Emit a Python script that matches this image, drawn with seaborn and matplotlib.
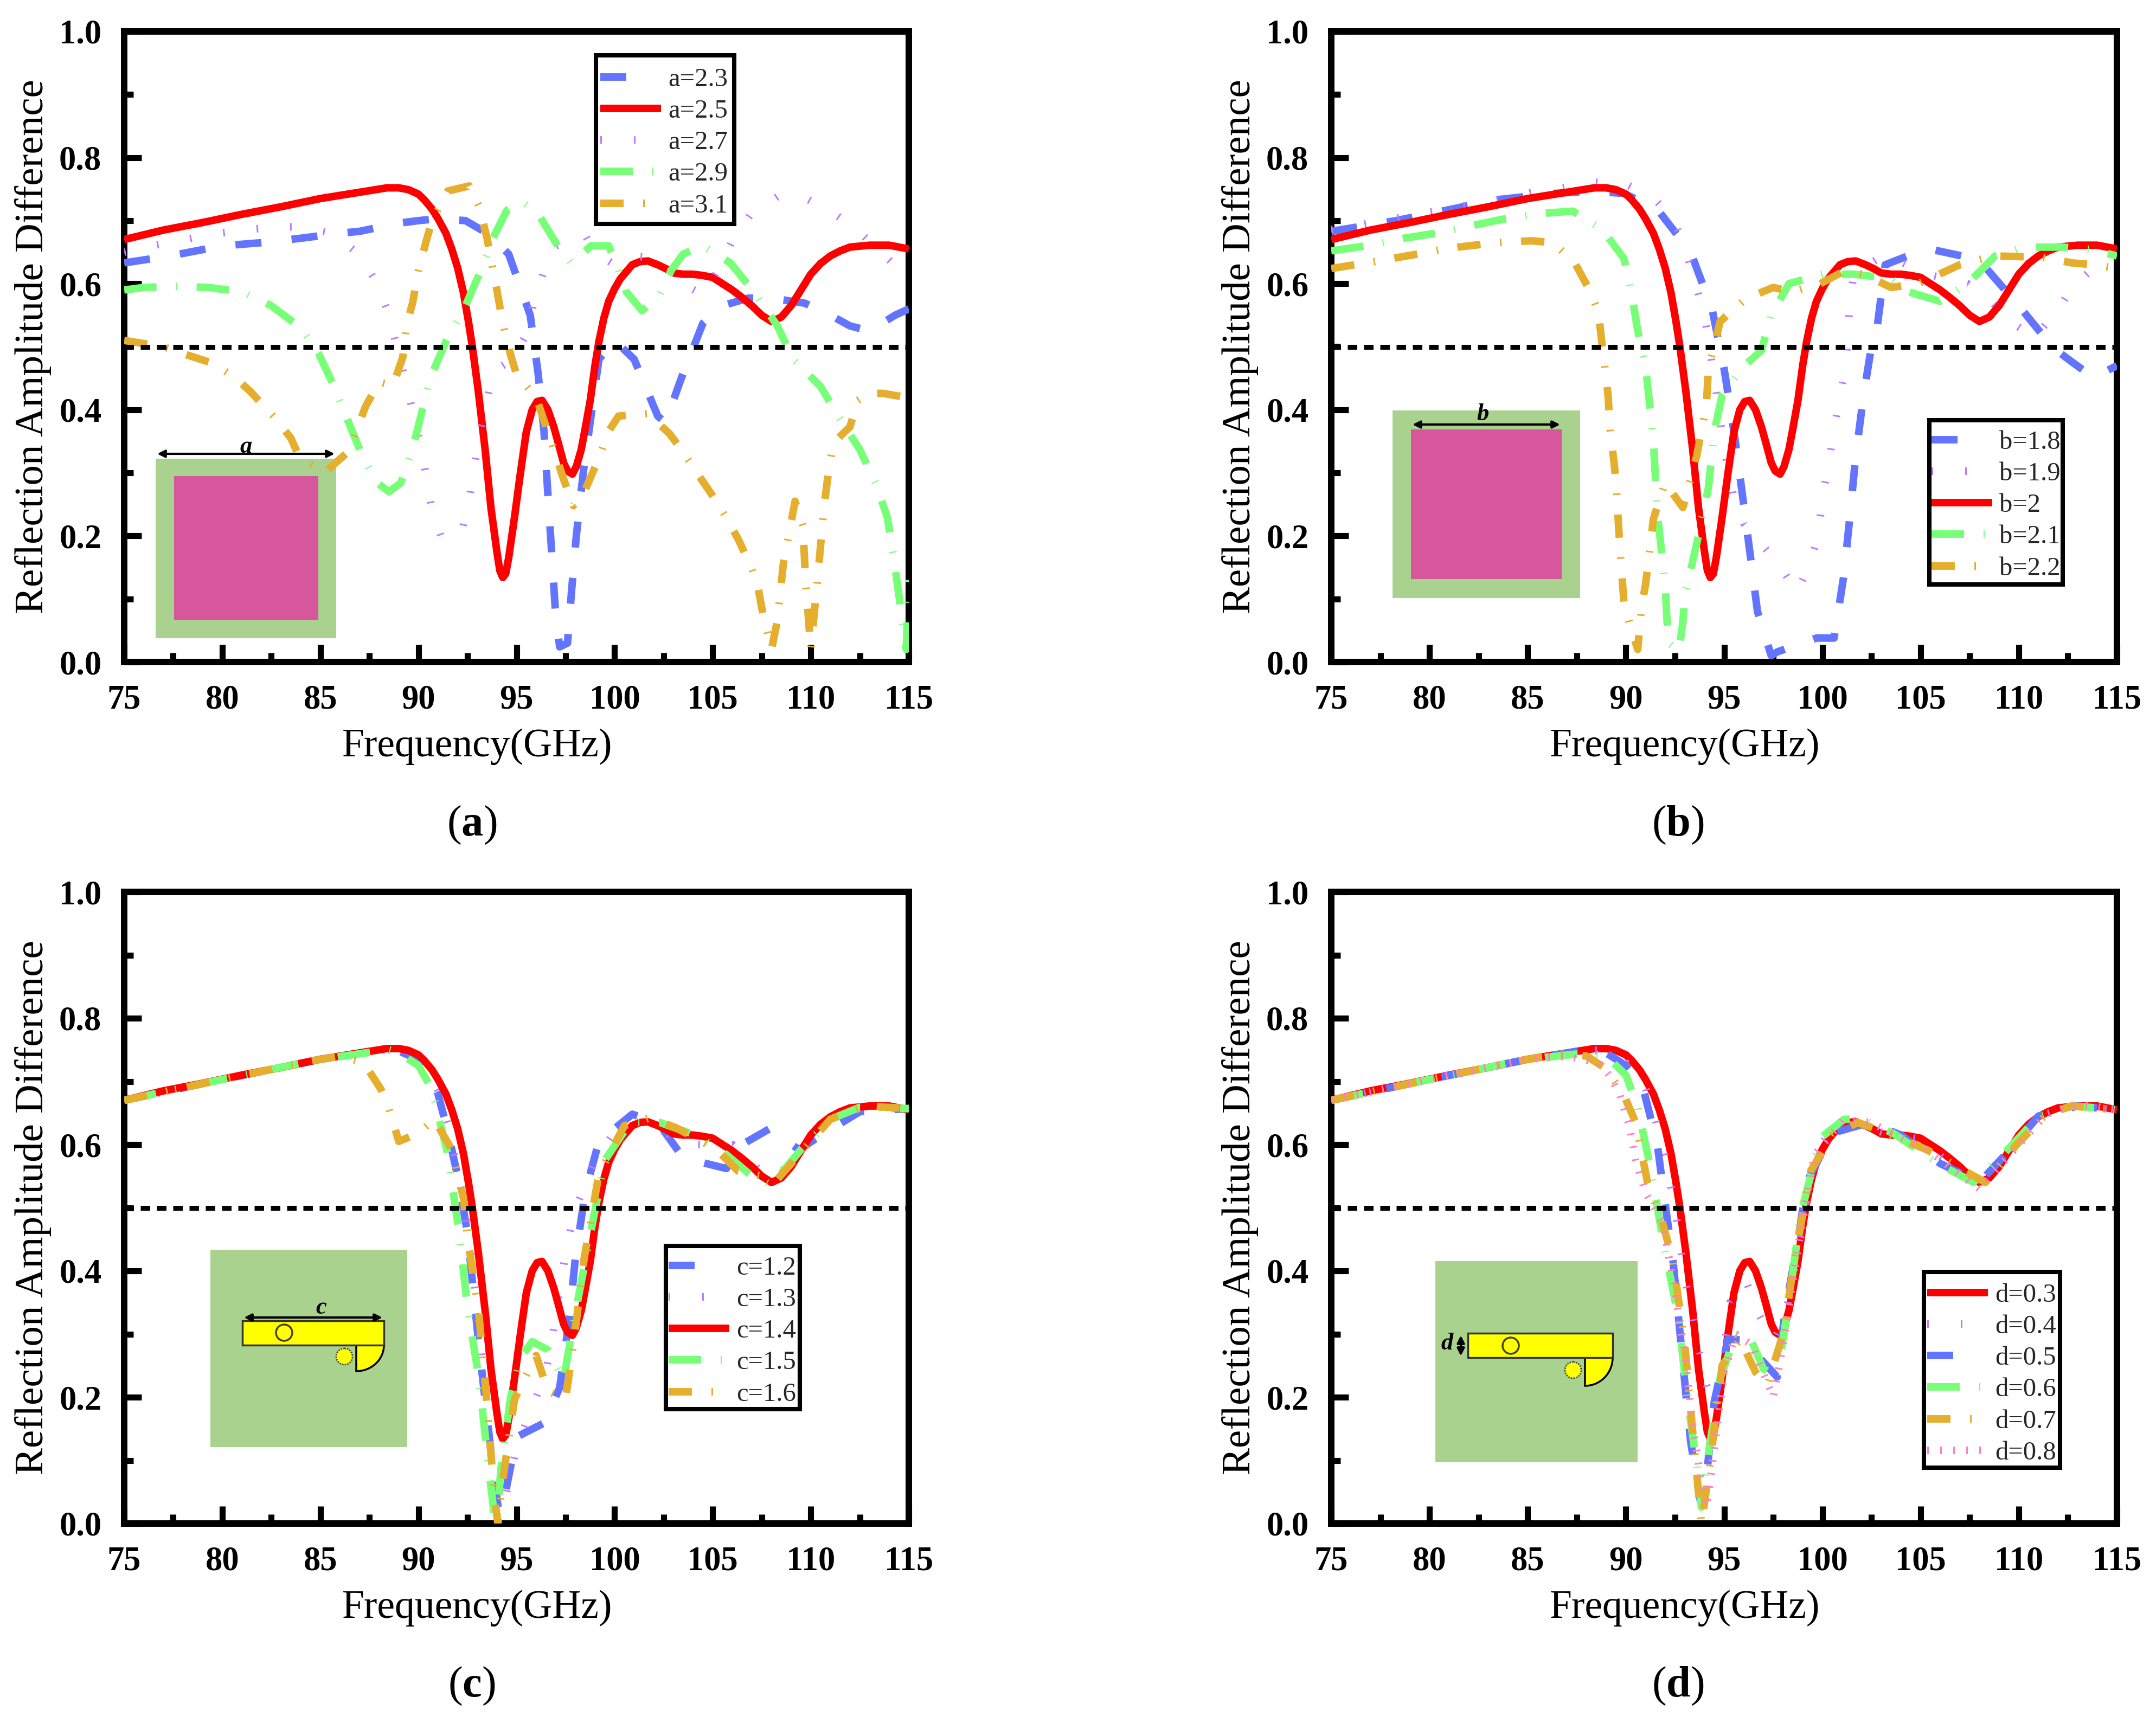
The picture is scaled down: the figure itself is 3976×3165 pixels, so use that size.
import matplotlib
matplotlib.use("Agg")
import matplotlib.pyplot as plt
import seaborn as sns
from matplotlib.lines import Line2D
from matplotlib.patches import Circle, Rectangle, Wedge
from matplotlib.ticker import MultipleLocator
from matplotlib.transforms import Affine2D

W, H = 3976, 3165

# --- curve shared by every panel (a=2.5, b=2, c=1.4, d=0.3)
x_ref = [75, 77, 79, 81, 83, 85, 86, 87, 88, 88.4, 89, 89.5, 90, 90.3, 90.7, 91, 91.4, 91.7, 92, 92.3, 92.55, 92.75,
         93.05, 93.4, 93.7, 94, 94.15, 94.3, 94.45, 94.6, 94.9, 95.2, 95.5, 95.8, 96.05, 96.3, 96.6, 96.9, 97.15, 97.4,
         97.6, 97.85, 98.05, 98.3, 98.5, 98.76, 99, 99.2, 99.45, 99.7, 100, 100.3, 100.9, 101.3, 101.7, 102.2, 102.6,
         103, 103.5, 104, 104.5, 105, 105.5, 106, 106.5, 107, 107.5, 108, 108.5, 109, 109.5, 110, 110.5, 111, 111.5,
         112, 113, 114, 115]
y_ref = [.67, .685, .697, .71, .722, .735, .74, .745, .75, .752, .752, .749, .742, .733, .718, .703, .68, .655, .625,
         .585, .54, .50, .43, .337, .244, .175, .145, .134, .14, .165, .23, .30, .365, .40, .413, .415, .40, .373, .345,
         .316, .303, .298, .31, .337, .37, .415, .47, .508, .545, .572, .592, .608, .63, .635, .636, .63, .624, .617,
         .615, .615, .613, .61, .60, .59, .578, .565, .55, .54, .547, .565, .59, .615, .632, .644, .652, .658, .661,
         .661, .655]

# --- panel (a)
x_a23 = [75, 76.5, 78, 80, 82, 84, 86, 87, 89, 90, 91, 92.4, 93.5, 94.6, 95.7, 96.1, 96.4, 96.6, 96.8, 97, 97.2, 97.6,
         97.8, 98.05, 98.4, 98.8, 99.2, 100, 101, 102.2, 102.6, 103.4, 104.5, 105.5, 106.8, 108, 109.7, 111, 112, 113,
         114.3, 115]
y_a23 = [.633, .64, .648, .66, .665, .672, .68, .683, .696, .70, .703, .70, .68, .647, .55, .458, .366, .266, .17,
         .073, .024, .03, .11, .2, .30, .39, .48, .51, .48, .39, .38, .45, .537, .565, .577, .577, .569, .55, .533,
         .525, .55, .56]
x_a27 = [75, 76.4, 77.8, 79.4, 81, 82.8, 84, 85.6, 87, 87.9, 88.5, 88.9, 89.3, 89.7, 90.1, 90.4, 90.7, 91.2, 92.2,
         92.6, 93.1, 93.5, 93.8, 94.8, 95.6, 95.9, 96.4, 97, 98.5, 98.8, 99.5, 100, 100.5, 101.2, 102.5, 103.4, 104.5,
         105.4, 106, 106.9, 108.3, 109.7, 111, 112.2, 113.3, 114.4, 115]
y_a27 = [.65, .66, .668, .678, .685, .69, .69, .68, .646, .60, .55, .50, .45, .40, .345, .295, .24, .195, .205, .26,
         .36, .415, .46, .48, .525, .575, .62, .66, .677, .66, .64, .63, .635, .643, .64, .60, .583, .627, .668, .708,
         .738, .736, .715, .69, .658, .626, .60]
x_a29 = [75, 76, 77.5, 79.3, 81, 82.5, 84, 84.9, 85.7, 86.4, 87.1, 87.9, 88.5, 89.1, 89.7, 90.6, 91.4, 92.3, 93.1, 93.8,
         94.5, 95.3, 96.1, 97.1, 97.8, 98.8, 99.7, 100.2, 100.6, 101.4, 102.3, 102.9, 103.5, 104.5, 105.9, 107.1, 108.3,
         109.1, 110.5, 111.4, 112.5, 113.3, 113.9, 114.2, 114.45, 114.7, 114.87, 115]
y_a29 = [.59, .594, .596, .594, .587, .565, .53, .49, .437, .383, .33, .284, .27, .284, .337, .45, .508, .558, .615,
         .672, .716, .73, .711, .66, .633, .66, .66, .622, .587, .557, .583, .622, .647, .66, .633, .587, .533, .48,
         .437, .39, .337, .284, .23, .173, .116, .06, .02, .13]
x_a31 = [75, 76, 77, 77.9, 79.5, 80.7, 81.4, 82.6, 83.5, 83.9, 85.2, 86.3, 86.7, 87.3, 88, 88.7, 89.2, 89.4, 89.7, 90,
         90.4, 90.7, 91.5, 92.6, 93.1, 93.5, 93.8, 94, 94.3, 94.7, 95, 96, 96.9, 97.4, 97.9, 98.5, 99.2, 99.7, 100.2,
         101.7, 102.8, 103.4, 104.2, 105.1, 105.6, 106.3, 107, 107.3, 107.6, 108, 108.3, 108.6, 108.9, 109.2, 109.6,
         109.75, 109.9, 110, 110.3, 110.7, 110.9, 111.1, 111.4, 112, 112.4, 113, 113.7, 114.8, 115]
y_a31 = [.51, .505, .50, .49, .474, .45, .43, .39, .355, .327, .30, .33, .355, .405, .444, .438, .483, .535, .569, .62,
         .668, .70, .747, .755, .722, .672, .622, .59, .537, .487, .456, .42, .337, .29, .248, .273, .323, .366, .39,
         .394, .362, .337, .30, .259, .234, .195, .148, .12, .07, .02, .066, .155, .205, .255, .216, .12, .063, .02,
         .116, .252, .30, .337, .355, .373, .415, .426, .426, .42, .418]

# --- panel (b)
x_b18 = [75, 78.3, 80.8, 83.4, 86.3, 88.3, 89.9, 91.6, 93.3, 94.4, 95, 95.5, 95.9, 96.3, 96.7, 97.4, 97.7, 99.7, 100.6,
         101.1, 101.4, 101.7, 102.1, 102.5, 102.8, 103.2, 104.6, 105.6, 107.7, 108.3, 110, 111.7, 112.4, 113.8, 115]
y_b18 = [.683, .70, .716, .733, .743, .747, .743, .718, .65, .558, .465, .366, .273, .177, .08, .01, .016, .038, .038,
         .138, .23, .326, .423, .50, .533, .63, .647, .654, .64, .626, .565, .50, .483, .451, .47]
x_b19 = [75, 76.4, 79.4, 81.5, 83.9, 85.5, 86.9, 88.4, 90, 91.4, 92.4, 93, 93.5, 94, 94.5, 95, 95.5, 96, 96.7, 97.9,
         98.7, 99.3, 99.8, 100, 100.3, 100.6, 100.9, 101.2, 101.4, 101.6, 103.2, 105.3, 107.4, 108.6, 109.7, 110.8, 112,
         112.7, 113.7, 115]
y_b19 = [.686, .693, .71, .722, .736, .747, .752, .761, .758, .736, .703, .658, .604, .55, .45, .34, .26, .22, .195,
         .15, .11, .15, .20, .26, .31, .37, .42, .47, .569, .615, .647, .615, .60, .572, .537, .515, .558, .594, .622,
         .65]
x_b21 = [75, 77, 78.7, 80.3, 82, 83.7, 85.5, 87.3, 88.8, 89.9, 90.3, 90.6, 91, 91.2, 91.4, 91.6, 91.8, 92, 92.1, 92.2,
         92.7, 92.9, 93, 93.6, 94.2, 94.5, 94.9, 96, 96.9, 97.4, 98.3, 100, 101.6, 103.5, 104.4, 106, 107.4, 108.8,
         110.3, 112.2, 113.7, 115]
y_b21 = [.652, .661, .672, .68, .691, .702, .711, .715, .686, .64, .583, .526, .469, .412, .351, .237, .18, .12, .063,
         .03, .018, .063, .105, .187, .276, .366, .423, .469, .494, .55, .60, .615, .615, .608, .587, .572, .60, .644,
         .658, .658, .654, .644]
x_b22 = [75, 77, 79.4, 80.9, 83.4, 85.2, 86.3, 87.4, 88.2, 88.6, 88.8, 89, 89.1, 89.2, 89.4, 89.5, 89.6, 89.7, 89.9,
         90.2, 90.6, 90.8, 91, 91.2, 91.4, 92, 92.9, 93.6, 94.1, 94.2, 94.6, 94.8, 96.1, 97.5, 98.5, 99.9, 101.1, 102.1,
         103.5, 104.9, 107, 108.7, 111.2, 112.7, 113.8, 115]
y_b22 = [.624, .634, .647, .656, .665, .668, .665, .633, .587, .555, .50, .45, .42, .366, .316, .284, .23, .18, .095,
         .06, .02, .088, .123, .173, .227, .284, .245, .326, .408, .465, .515, .54, .576, .594, .587, .60, .62, .615,
         .594, .60, .63, .644, .642, .633, .63, .624]

# --- panel (c)
x_c12 = [75, 80, 85, 88, 89, 90, 91, 91.5, 92, 92.5, 93.05, 93.8, 94.1, 94.4, 95, 96.4, 97.2, 97.7, 98, 98.5, 99.2,
         100.9, 102.2, 103.5, 105.7, 106.5, 107.9, 109.4, 110.7, 112.5, 115]
y_c12 = [.67, .703, .735, .75, .748, .735, .68, .62, .55, .46, .292, .086, .017, .043, .137, .159, .215, .326, .42,
         .524, .605, .648, .635, .579, .562, .60, .625, .592, .618, .652, .657]
x_c13 = [75, 80, 85, 88, 89, 90, 91, 91.5, 92, 92.5, 93, 93.5, 94, 94.5, 95, 95.5, 96, 96.5, 96.8, 97.3, 97.6, 98, 99,
         100, 101, 102, 103.5, 105, 106, 107, 108, 109, 110, 111, 112, 113, 115]
y_c13 = [.67, .703, .735, .75, .749, .735, .685, .63, .56, .47, .34, .16, .03, .05, .12, .16, .2, .24, .29, .39, .444,
         .498, .575, .62, .635, .63, .60, .60, .60, .57, .545, .57, .61, .64, .655, .66, .655]
x_c15 = [75, 80, 85, 88, 88.5, 89, 90, 90.7, 91.5, 92.1, 92.5, 93.1, 93.5, 93.85, 94, 94.2, 94.7, 95.2, 95.8, 96.6,
         97.4, 97.8, 98.8, 99.5, 100.8, 102.3, 104.2, 105.7, 107, 108, 109.5, 111, 112.5, 115]
y_c15 = [.67, .703, .735, .748, .75, .745, .725, .687, .584, .455, .343, .227, .112, .017, 0, .086, .20, .262, .288,
         .275, .227, .30, .464, .575, .635, .635, .614, .584, .55, .536, .592, .64, .659, .657]
x_c16 = [75, 80, 85, 86, 87.2, 88.1, 88.5, 89, 90, 90.8, 91.7, 92.3, 92.5, 93.1, 93.5, 93.85, 94.05, 94.3, 94.9, 96,
         96.6, 97.5, 97.9, 98.45, 99.2, 100.5, 101.8, 103.1, 105.2, 106.3, 108.3, 109.4, 111, 112.8, 115]
y_c16 = [.67, .703, .735, .74, .73, .687, .657, .605, .618, .64, .592, .515, .455, .326, .189, .05, 0, .069, .197, .266,
         .21, .197, .283, .42, .553, .63, .642, .627, .592, .558, .545, .584, .64, .661, .657]

# --- panel (d)
x_d4 = [75, 80, 85, 88, 89, 90, 91, 91.5, 92, 92.5, 93, 94, 94.5, 94.9, 95.3, 96.1, 96.7, 97.5, 98.1, 98.8, 99.5, 100.5,
        101.5, 103, 105, 106.5, 108, 109.5, 111, 113, 115]
y_d4 = [.67, .703, .735, .75, .748, .73, .69, .64, .58, .50, .39, .23, .18, .25, .35, .386, .335, .29, .325, .437, .575,
        .628, .638, .62, .608, .57, .542, .59, .644, .661, .655]
x_d5 = [75, 80, 85, 88, 89, 90, 90.8, 91.6, 92, 92.4, 93, 93.3, 93.8, 94.1, 94.5, 95.2, 96.1, 96.7, 97.7, 98.1, 98.8,
        99.2, 100.5, 102.4, 104, 106, 108, 109.5, 111, 113, 115]
y_d5 = [.67, .703, .735, .75, .745, .725, .699, .60, .506, .416, .223, .129, .034, .073, .193, .292, .29, .266, .232,
        .335, .455, .54, .618, .635, .615, .57, .54, .59, .645, .661, .655]
x_d6 = [75, 80, 85, 88, 89, 90, 90.6, 91.3, 91.9, 92.7, 93.1, 93.6, 93.85, 94.2, 94.8, 95.6, 96.3, 97, 97.7, 98.3, 98.9,
        99.9, 101.1, 102, 103.6, 106, 107.7, 109.2, 111, 112.7, 115]
y_d6 = [.67, .703, .735, .745, .74, .71, .66, .556, .446, .322, .206, .094, .026, .11, .23, .30, .296, .245, .232, .352,
        .49, .61, .64, .64, .618, .568, .54, .584, .644, .661, .655]
x_d7 = [75, 80, 85, 86.9, 88, 89, 89.9, 90.5, 91.1, 91.9, 92.4, 93, 93.4, 93.85, 94.3, 94.9, 95.8, 96.6, 97.2, 98, 98.6,
        99.4, 100.5, 101.8, 103.3, 105.3, 108.3, 109.9, 111.4, 112.7, 115]
y_d7 = [.67, .703, .735, .744, .74, .72, .678, .635, .54, .472, .416, .283, .146, 0, .10, .25, .292, .24, .219, .30,
        .42, .558, .614, .635, .618, .592, .54, .60, .648, .661, .655]
x_d8 = [75, 80, 85, 87, 88.6, 89.2, 89.7, 90.2, 90.5, 91, 91.9, 92.5, 93, 93.4, 93.9, 94.1, 94.3, 95, 95.6, 96.4, 97.2,
        97.5, 98, 98.8, 99.6, 101.1, 102.4, 105.3, 108, 109.9, 111.4, 113, 115]
y_d8 = [.67, .703, .735, .74, .73, .708, .678, .627, .575, .524, .472, .369, .266, .155, .052, .026, .069, .24, .30,
        .283, .223, .20, .283, .445, .584, .64, .635, .592, .53, .596, .648, .664, .655]

x_ticks = [75, 80, 85, 90, 95, 100, 105, 110, 115]
y_ticks = [0.0, 0.2, 0.4, 0.6, 0.8, 1.0]
threshold = [0.5, 0.5]
threshold_x = [75, 115]

BLUE = "#6375ff"
RED = "#ff0000"
PURPLE = "#bb7aff"
GREEN = "#78ff78"
ORANGE = "#e5ae2d"
PINK = "#ff7fc4"

px = 0.72  # points per pixel at dpi 100
DASHES = {
    BLUE: (48 * px, 56 * px),
    PURPLE: (3 * px, 59 * px),
    GREEN: (60 * px, 36 * px, 2 * px, 36 * px),
    ORANGE: (43 * px, 36 * px, 3 * px, 36 * px),
    PINK: (3 * px, 21 * px),
}

sns.set_theme(style="ticks")
plt.rcParams["font.family"] = ["Liberation Serif", "DejaVu Serif"]
plt.rcParams["mathtext.fontset"] = "custom"
plt.rcParams["mathtext.rm"] = "Liberation Serif"
plt.rcParams["mathtext.bf"] = "Liberation Serif:bold"
plt.rcParams["lines.scale_dashes"] = False
plt.rcParams["lines.dash_capstyle"] = "butt"
plt.rcParams["lines.solid_capstyle"] = "butt"
plt.rcParams["lines.solid_joinstyle"] = "round"
plt.rcParams["lines.dash_joinstyle"] = "round"

fig = plt.figure(figsize=(W / 100, H / 100), dpi=100, facecolor="white")
# pixel coordinates of the reference, y going down
to_fig = Affine2D().scale(1 / W, -1 / H).translate(0, 1) + fig.transFigure


def make_axes(left, right, top, bottom):
    return fig.add_axes([left / W, 1 - bottom / H, (right - left) / W, (bottom - top) / H])


def add_rect(ax, x0, y0, x1, y1, color, edgecolor="none", lw=0, zorder=0.5):
    ax.add_patch(Rectangle((x0, y0), x1 - x0, y1 - y0, facecolor=color, edgecolor=edgecolor, lw=lw, transform=to_fig,
                           clip_on=False, zorder=zorder))


def add_arrow(ax, x0, y0, x1, y1):
    ax.annotate("", xy=(x1 / W, 1 - y1 / H), xytext=(x0 / W, 1 - y0 / H), xycoords="figure fraction",
                textcoords="figure fraction", zorder=0.8,
                arrowprops=dict(arrowstyle="<|-|>", color="black", lw=3, mutation_scale=20, shrinkA=0, shrinkB=0))


def add_strip(ax, left, right, top, bottom, circle, dotted, quarter_left, quarter_bottom):
    # yellow strip with the quarter disc and the two vias
    radius = right - quarter_left
    squash = Affine2D().translate(-quarter_left, -bottom).scale(1, (quarter_bottom - bottom) / radius)
    squash = squash.translate(quarter_left, bottom)
    ax.add_patch(Wedge((quarter_left, bottom), radius, 0, 90, facecolor="#ffff00", edgecolor="black", lw=2.5,
                       transform=squash + to_fig, clip_on=False, zorder=0.6))
    ax.add_patch(Rectangle((left, top), right - left, bottom - top, facecolor="#ffff00", edgecolor="#333333", lw=2.5,
                           transform=to_fig, clip_on=False, zorder=0.65))
    ax.add_patch(Circle(circle, 15, facecolor="none", edgecolor="#444400", lw=2.5, transform=to_fig, clip_on=False,
                        zorder=0.7))
    ax.add_patch(Circle(dotted, 15, facecolor="#ffff00", edgecolor="#444444", lw=2, ls=(0, (2, 1.5)), transform=to_fig,
                        clip_on=False, zorder=0.7))


def draw_panel(ax, series, box, legend_at, caption, caption_xy):
    handles = []
    for x_vals, y_vals, color, label in series:
        sns.lineplot(x=x_vals, y=y_vals, ax=ax, color=color, linewidth=10, legend=False, errorbar=None, zorder=3)
        line = ax.lines[-1]
        handle = Line2D([], [], color=color, linewidth=10, dash_capstyle="butt", solid_capstyle="butt", label=label)
        if color in DASHES:
            line.set_dashes(DASHES[color])
            handle.set_dashes((48 * px, 90 * px) if color == BLUE else DASHES[color])
        handles.append(handle)
    sns.lineplot(x=threshold_x, y=threshold, ax=ax, color="black", linewidth=6.5, legend=False, errorbar=None, zorder=4)
    ax.lines[-1].set_dashes((12.6, 9))

    ax.set_xlim(75, 115)
    ax.set_ylim(0, 1)
    ax.set_xticks(x_ticks)
    ax.set_yticks(y_ticks)
    ax.set_yticklabels([f"{t:.1f}" for t in y_ticks])
    ax.xaxis.set_minor_locator(MultipleLocator(2.5))
    ax.yaxis.set_minor_locator(MultipleLocator(0.1))
    ax.tick_params(which="major", direction="in", length=23, width=8, labelsize=45, bottom=True, left=True, pad=30,
                   color="black", labelcolor="black")
    ax.tick_params(which="minor", direction="in", length=12, width=8, bottom=True, left=True, color="black")
    for label in ax.get_xticklabels() + ax.get_yticklabels():
        label.set_fontweight("bold")
    for spine in ax.spines.values():
        spine.set_visible(True)
        spine.set_linewidth(8.6)
        spine.set_color("black")
    ax.set_xlabel("Frequency(GHz)", fontsize=53, color="black", va="center")
    ax.set_ylabel("Reflection Amplitude Difference", fontsize=54, color="black", va="center")
    ax.xaxis.set_label_coords(0.45, -0.134)
    ax.yaxis.set_label_coords(-0.116, 0.5)

    # legend frame drawn on its own so its size can follow the reference box
    add_rect(ax, box[0] + 4, box[2] + 4, box[1] - 4, box[3] - 4, "white", edgecolor="black", lw=5.8, zorder=9)
    x0, y0 = legend_at
    leg = ax.legend(handles=handles, loc="upper left", bbox_to_anchor=(x0 / W, 1 - y0 / H),
                    bbox_transform=fig.transFigure, borderaxespad=0, fontsize=35, frameon=False, handlelength=2.3,
                    handletextpad=0.28, borderpad=0, labelspacing=0.29)
    leg.set_zorder(10)
    fig.text(caption_xy[0] / W, 1 - caption_xy[1] / H, caption, fontsize=58, ha="center", va="center", color="black")


ax_a = make_axes(229, 1676, 58, 1221)
ax_b = make_axes(2455, 3904, 58, 1221)
ax_c = make_axes(229, 1676, 1645, 2810)
ax_d = make_axes(2455, 3904, 1645, 2810)

GROUND = "#aad28f"
PAD = "#d6579c"

# small structure sketches, under the curves
add_rect(ax_a, 287, 846, 620, 1177, GROUND)
add_rect(ax_a, 321, 878, 587, 1144, PAD)
add_arrow(ax_a, 290, 837, 617, 837)
ax_a.text(454, 824, "a", transform=to_fig, fontsize=32, style="italic", weight="bold", ha="center", va="center",
          color="black")

add_rect(ax_b, 2568, 757, 2914, 1103, GROUND)
add_rect(ax_b, 2602, 792, 2880, 1068, PAD)
add_arrow(ax_b, 2605, 783, 2877, 783)
ax_b.text(2735, 764, "b", transform=to_fig, fontsize=32, style="italic", weight="bold", ha="center", va="center",
          color="black")

add_rect(ax_c, 388, 2305, 751, 2669, GROUND)
add_strip(ax_c, 447, 708, 2436, 2481, (524, 2458), (635, 2502), 657, 2529)
add_arrow(ax_c, 450, 2430, 705, 2430)
ax_c.text(592, 2412, "c", transform=to_fig, fontsize=32, style="italic", weight="bold", ha="center", va="center",
          color="black")

add_rect(ax_d, 2647, 2326, 3020, 2697, GROUND)
add_strip(ax_d, 2707, 2974, 2459, 2504, (2786, 2482), (2901, 2527), 2923, 2556)
add_arrow(ax_d, 2694, 2463, 2694, 2501)
ax_d.text(2669, 2478, "d", transform=to_fig, fontsize=32, style="italic", weight="bold", ha="center", va="center",
          color="black")

draw_panel(ax_a, [(x_a23, y_a23, BLUE, "a=2.3"), (x_ref, y_ref, RED, "a=2.5"), (x_a27, y_a27, PURPLE, "a=2.7"),
                  (x_a29, y_a29, GREEN, "a=2.9"), (x_a31, y_a31, ORANGE, "a=3.1")],
           (1095, 1358, 98, 417), (1107, 125), r"($\mathbf{a}$)", (870, 1522))
draw_panel(ax_b, [(x_b18, y_b18, BLUE, "b=1.8"), (x_b19, y_b19, PURPLE, "b=1.9"), (x_ref, y_ref, RED, "b=2"),
                  (x_b21, y_b21, GREEN, "b=2.1"), (x_b22, y_b22, ORANGE, "b=2.2")],
           (3554, 3808, 771, 1082), (3562, 794), r"($\mathbf{b}$)", (3094, 1522))
draw_panel(ax_c, [(x_c12, y_c12, BLUE, "c=1.2"), (x_c13, y_c13, PURPLE, "c=1.3"), (x_ref, y_ref, RED, "c=1.4"),
                  (x_c15, y_c15, GREEN, "c=1.5"), (x_c16, y_c16, ORANGE, "c=1.6")],
           (1224, 1479, 2294, 2603), (1233, 2317), r"($\mathbf{c}$)", (870, 3110))
draw_panel(ax_d, [(x_ref, y_ref, RED, "d=0.3"), (x_d4, y_d4, PURPLE, "d=0.4"), (x_d5, y_d5, BLUE, "d=0.5"),
                  (x_d6, y_d6, GREEN, "d=0.6"), (x_d7, y_d7, ORANGE, "d=0.7"), (x_d8, y_d8, PINK, "d=0.8")],
           (3544, 3803, 2342, 2711), (3554, 2367), r"($\mathbf{d}$)", (3094, 3110))

fig.savefig("out.png", dpi=100, facecolor="white")
